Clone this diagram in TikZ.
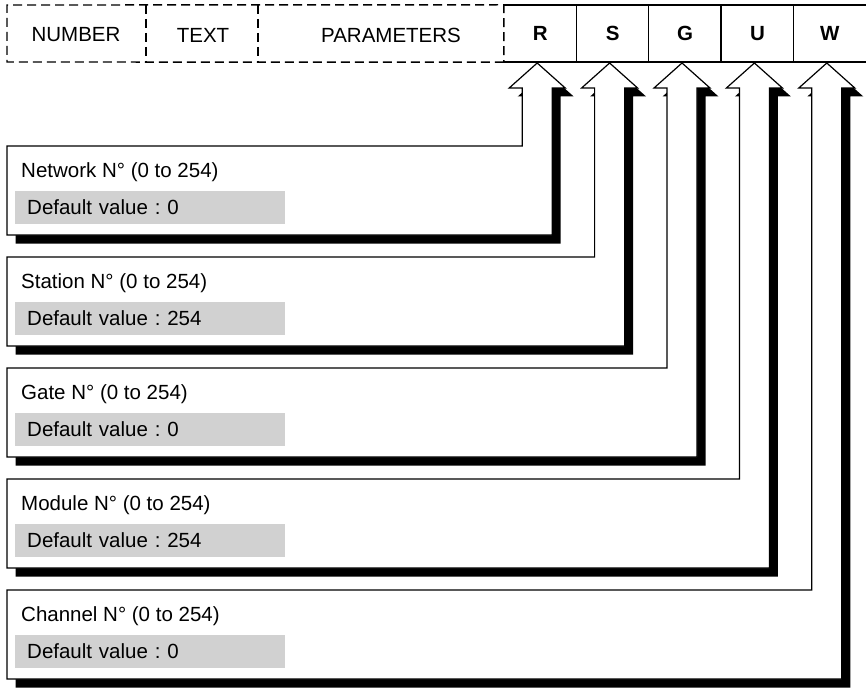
\documentclass[tikz,border=0pt]{standalone}
\usepackage{fontspec}
\setmainfont{Liberation Sans}
\usetikzlibrary{calc, shadows}

\begin{document}
\begin{tikzpicture}[x=1pt, y=-1pt,
  hdr/.style={inner sep=0pt, minimum height=57pt, font=\fontsize{20.5}{24}\selectfont},
  cell/.style={hdr, minimum width=72.4pt, font=\fontsize{20.5}{24}\selectfont\bfseries},
  dashline/.style={line width=1.4pt, dash pattern=on 9pt off 5pt},
  cellline/.style={line width=1.2pt},
  field/.style={line width=1.2pt, fill=white, drop shadow={shadow xshift=8.5pt, shadow yshift=-8.5pt, fill=black, opacity=1}},
  fieldtitle/.style={anchor=base west, inner sep=0pt, font=\fontsize{20.5}{24}\selectfont},
  defval/.style={anchor=west, fill=black!18, minimum height=33pt, text width=246pt, align=left, inner xsep=12pt, inner ysep=0pt, font=\fontsize{20.5}{24}\selectfont}]
  \useasboundingbox (0,0) rectangle (866,687);

  % frame fields
  \node[hdr] (number) at (76,35) {NUMBER};
  \node[hdr] (text) at (203,35) {TEXT};
  \node[hdr] (params) at (391,35) {PARAMETERS};
  \foreach \cname [count=\k from 0] in {R,S,G,U,W}
    \node[cell] (cell\cname) at (540.2+72.4*\k,33.5) {\cname};

  \draw[dashline] (cellR.south west) -- (7,62) -- (7,5) -- (cellR.north west) -- cycle;
  \draw[dashline] (146,5) -- (146,62);
  \draw[dashline] (258,5) -- (258,62);
  \draw[cellline, line width=2pt] (cellR.north west) -- (cellW.north east);
  \draw[cellline, line width=2.2pt] (cellR.south west) -- (cellW.south east);
  \foreach \cname in {S,G,U,W}
    \draw[cellline] (cell\cname.north west) -- (cell\cname.south west);

  % address fields with their arrows
  \foreach \cname/\ytop/\fname/\val in {R/146/Network/0, S/257/Station/254, G/368/Gate/0, U/479/Module/254, W/590/Channel/0}{
    \pgfmathsetmacro{\ybot}{\ytop+89}
    \draw[field] let \p1=(cell\cname.south) in
      (7pt,-\ytop pt) -- (\x1-18pt,-\ytop pt) -- (\x1-18pt,-88pt) -- (\x1-31pt,-88pt)
      -- (\x1-3pt,-63pt) -- (\x1+25pt,-88pt) -- (\x1+12pt,-88pt)
      -- (\x1+12pt,-\ybot pt) -- (7pt,-\ybot pt) -- cycle;
    \node[fieldtitle] (title\cname) at (21,\ytop+31) {\fname\ N° (0 to 254)};
    \node[defval] (def\cname) at (15,\ytop+61) {Default value :\ \val};
  }
\end{tikzpicture}
\end{document}
